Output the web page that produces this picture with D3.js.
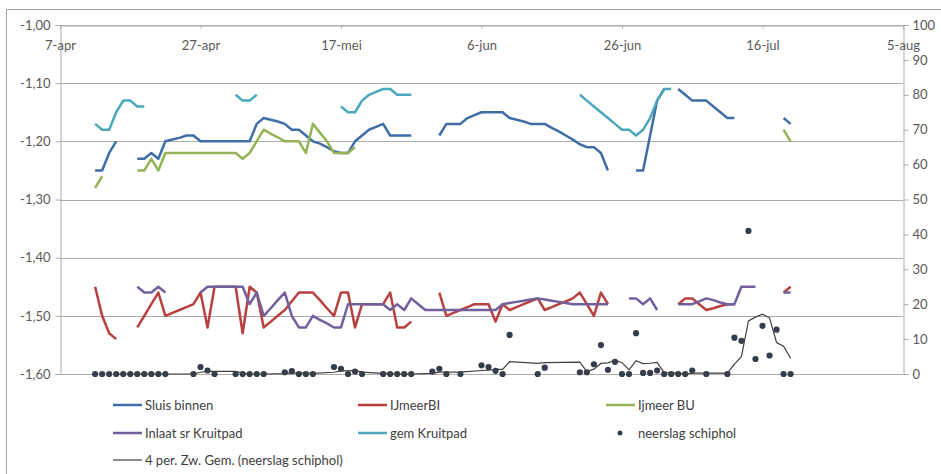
<!DOCTYPE html>
<html><head><meta charset="utf-8">
<script src="https://cdn.jsdelivr.net/npm/d3@7"></script>
<style>
body{margin:0;background:#fff}
svg{display:block}
text{font-family:Lato,"Open Sans",sans-serif}
</style>
</head><body>
<svg id="chart" width="941" height="474"></svg>
<script>
const _ = null;
// x axis: day index 0 = 7-apr
const startDate = Date.UTC(2013, 3, 7);
const tickLabels = ["7-apr","27-apr","17-mei","6-jun","26-jun","16-jul","5-aug"];
const tickStepDays = 20;
const leftTicks = [-1.6,-1.5,-1.4,-1.3,-1.2,-1.1,-1.0];
const rightTicks = [0,10,20,30,40,50,60,70,80,90,100];

// series values, one per day from 7-apr (null = no data)
const sluisBinnen = [
 _,_,_,_,_,-1.25,-1.25,-1.22,-1.20,_,
 _,-1.23,-1.23,-1.22,-1.23,-1.20,-1.197,-1.194,-1.19,-1.19,
 -1.20,-1.20,-1.20,-1.20,-1.20,-1.20,-1.20,-1.20,-1.17,-1.16,
 -1.163,-1.166,-1.17,-1.18,-1.18,-1.19,-1.20,-1.204,-1.21,-1.217,
 -1.22,-1.22,-1.20,-1.19,-1.18,-1.175,-1.17,-1.19,-1.19,-1.19,
 -1.19,_,_,_,-1.19,-1.17,-1.17,-1.17,-1.16,-1.155,
 -1.15,-1.15,-1.15,-1.15,-1.16,-1.163,-1.166,-1.17,-1.17,-1.17,
 -1.177,-1.183,-1.19,-1.197,-1.205,-1.21,-1.21,-1.22,-1.25,_,
 _,_,-1.25,-1.25,-1.19,-1.13,-1.11,_,-1.11,-1.12,
 -1.13,-1.13,-1.13,-1.14,-1.15,-1.16,-1.16,_,_,_,
 _,_,_,-1.16,-1.17
];
const ijmeerBI = [
 _,_,_,_,_,-1.45,-1.50,-1.53,-1.54,_,
 _,-1.52,-1.50,-1.48,-1.46,-1.50,-1.495,-1.49,-1.485,-1.48,
 -1.46,-1.52,-1.45,-1.45,-1.45,-1.45,-1.53,-1.45,-1.46,-1.52,
 -1.51,-1.50,-1.49,-1.475,-1.46,-1.46,-1.46,-1.473,-1.487,-1.50,
 -1.46,-1.46,-1.52,-1.48,-1.48,-1.48,-1.48,-1.46,-1.52,-1.52,
 -1.51,_,_,_,-1.46,-1.50,-1.495,-1.49,-1.485,-1.48,
 -1.48,-1.48,-1.51,-1.48,-1.49,-1.485,-1.48,-1.475,-1.47,-1.49,
 -1.485,-1.48,-1.475,-1.47,-1.46,-1.48,-1.50,-1.46,-1.48,_,
 _,_,_,_,_,_,_,_,-1.48,-1.47,
 -1.47,-1.48,-1.49,-1.487,-1.483,-1.48,-1.48,_,_,_,
 _,_,_,-1.46,-1.45
];
const ijmeerBU = [
 _,_,_,_,_,-1.28,-1.26,_,_,_,
 _,-1.25,-1.25,-1.23,-1.25,-1.22,-1.22,-1.22,-1.22,-1.22,
 -1.22,-1.22,-1.22,-1.22,-1.22,-1.22,-1.23,-1.22,-1.20,-1.18,
 -1.187,-1.193,-1.20,-1.20,-1.20,-1.22,-1.17,-1.185,-1.20,-1.22,
 -1.22,-1.22,-1.21,_,_,_,_,_,_,_,
 _,_,_,_,_,_,_,_,_,_,
 _,_,_,_,_,_,_,_,_,_,
 _,_,_,_,_,_,_,_,_,_,
 _,_,_,_,_,_,_,_,_,_,
 _,_,_,_,_,_,_,_,_,_,
 _,_,_,-1.18,-1.20
];
const inlaatKruitpad = [
 _,_,_,_,_,_,_,_,_,_,
 _,-1.45,-1.46,-1.46,-1.45,-1.46,_,_,_,_,
 -1.46,-1.45,-1.45,-1.45,-1.45,-1.45,-1.45,-1.48,-1.46,-1.50,
 -1.487,-1.473,-1.46,-1.50,-1.52,-1.52,-1.50,-1.507,-1.513,-1.52,
 -1.52,-1.48,-1.48,-1.48,-1.48,-1.48,-1.48,-1.49,-1.48,-1.49,
 -1.47,-1.48,-1.49,-1.49,-1.49,-1.49,-1.49,-1.49,-1.49,-1.49,
 -1.49,-1.49,-1.49,-1.48,-1.478,-1.476,-1.474,-1.472,-1.47,-1.472,
 -1.474,-1.476,-1.478,-1.48,-1.48,-1.48,-1.48,-1.48,-1.48,_,
 _,-1.47,-1.47,-1.48,-1.47,-1.49,_,_,-1.48,-1.48,
 -1.48,-1.475,-1.47,-1.473,-1.477,-1.48,-1.48,-1.45,-1.45,-1.45,
 _,_,_,-1.46,-1.46
];
const gemKruitpad = [
 _,_,_,_,_,-1.17,-1.18,-1.18,-1.15,-1.13,
 -1.13,-1.14,-1.14,_,_,_,_,_,_,_,
 _,_,_,_,_,-1.12,-1.13,-1.13,-1.12,_,
 _,_,_,_,_,_,_,_,_,_,
 -1.14,-1.15,-1.15,-1.13,-1.12,-1.115,-1.11,-1.11,-1.12,-1.12,
 -1.12,_,_,_,_,_,_,_,_,_,
 _,_,_,_,_,_,_,_,_,_,
 _,_,_,_,-1.12,-1.13,-1.14,-1.15,-1.16,-1.17,
 -1.18,-1.18,-1.19,-1.18,-1.16,-1.13,-1.11,-1.11,_,_,
 _,_,_,_,_,_,_,_,_,_,
 _,_,_,_,_
];
// right axis (mm)
const neerslagSchiphol = [
 _,_,_,_,_,0,0,0,0,0,
 0,0,0,0,0,0,_,_,_,0,
 2.0,1.0,0,_,_,0,0,0,0,0,
 _,_,0.5,0.8,0,0,0,_,_,2.0,
 1.5,0,0.7,0,_,_,0,0,0,0,
 0,_,_,0.7,1.5,0,_,0,_,_,
 2.5,2.0,0.9,0,11.2,_,_,_,0,1.8,
 _,_,_,_,0.5,0.5,2.8,8.3,1.2,3.5,
 0,0,11.7,0.3,0.3,1.0,0,0,0,0,
 1.0,_,0,_,_,0,10.4,9.5,41,4.3,
 13.8,5.3,12.7,0,0
];
const movingAvg4 = [
 _,_,_,_,_,_,_,_,0,0,
 0,0,0,0,0,0,_,_,_,0,
 0.5,0.75,0.75,_,_,0.75,0.25,0,0,0,
 _,_,0.13,0.33,0.33,0.33,0.2,_,_,0.5,
 0.88,0.88,1.05,0.55,_,_,0.18,0.18,0,0,
 0,_,_,0.18,0.55,0.55,_,0.55,_,_,
 1.0,1.13,1.35,1.35,3.53,_,_,_,3.03,3.25,
 _,_,_,_,3.38,0.7,1.4,3.03,3.2,3.95,
 3.25,1.18,3.8,3.0,3.08,3.33,0.4,0.33,0.25,0,
 0.25,_,0.25,_,_,0.25,2.85,4.98,15.23,16.3,
 17.15,16.1,9.03,7.95,4.5
];

const seriesNames = ["Sluis binnen","IJmeerBI","Ijmeer BU","Inlaat sr Kruitpad","gem Kruitpad","neerslag schiphol","4 per. Zw. Gem. (neerslag schiphol)"];
const seriesColors = ["#3f6ea6","#b8413f","#93b354","#72609e","#4ba8bc","#353c4a","#404040"];
const lineSeries = [sluisBinnen, ijmeerBI, ijmeerBU, inlaatKruitpad, gemKruitpad];

const svg = d3.select("#chart");
const W = 941, H = 474;
const plot = {left: 60, right: 903, top: 25, bottom: 374};
const gridColor = "#ababab";
const textColor = "#595959";

// chart frame
svg.append("rect").attr("x", 6.5).attr("y", 9.5).attr("width", W + 20).attr("height", H + 20)
  .attr("fill", "#fff").attr("stroke", "#a0a0a0").attr("stroke-width", 1);

const dayDate = i => new Date(startDate + i * 86400000);
const x = d3.scaleUtc().domain([dayDate(0), dayDate(120)]).range([plot.left, plot.right]);
const yL = d3.scaleLinear().domain([-1.6, -1.0]).range([plot.bottom, plot.top]);
const yR = d3.scaleLinear().domain([0, 100]).range([plot.bottom, plot.top]);

// gridlines
svg.append("g").selectAll("line").data(leftTicks).join("line")
  .attr("x1", plot.left).attr("x2", plot.right)
  .attr("y1", d => Math.round(yL(d)) + 0.5).attr("y2", d => Math.round(yL(d)) + 0.5)
  .attr("stroke", gridColor).attr("stroke-width", 1);

// left axis
const fmtL = d => d3.format(".2f")(d).replace("\u2212", "-").replace(".", ",");
const gL = svg.append("g").attr("transform", `translate(${plot.left + 0.5},0)`)
  .call(d3.axisLeft(yL).tickValues(leftTicks).tickFormat(fmtL).tickSize(5).tickPadding(5));
gL.select(".domain").attr("stroke", gridColor);
gL.selectAll(".tick line").attr("stroke", gridColor);
gL.selectAll("text").attr("font-size", 13).attr("fill", textColor).attr("font-family", "Lato");

// right axis
const gR = svg.append("g").attr("transform", `translate(${plot.right + 0.5},0)`)
  .call(d3.axisRight(yR).tickValues(rightTicks).tickSize(5).tickPadding(4));
gR.select(".domain").attr("stroke", gridColor);
gR.selectAll(".tick line").attr("stroke", gridColor);
gR.selectAll("text").attr("font-size", 13).attr("fill", textColor).attr("font-family", "Lato");

// top x axis (labels below the line)
const tickDates = tickLabels.map((t, i) => dayDate(i * tickStepDays));
const gX = svg.append("g").attr("transform", `translate(0,${plot.top + 0.5})`)
  .call(d3.axisBottom(x).tickValues(tickDates).tickFormat((d, i) => tickLabels[i]).tickSize(3).tickPadding(12));
gX.select(".domain").attr("stroke", gridColor);
gX.selectAll(".tick line").attr("stroke", gridColor);
gX.selectAll("text").attr("font-size", 13).attr("fill", textColor).attr("font-family", "Lato");

// line series
lineSeries.forEach((arr, k) => {
  const line = d3.line()
    .defined(d => d != null)
    .x((d, i) => x(dayDate(i)))
    .y(d => yL(d));
  svg.append("path").datum(arr).attr("d", line)
    .attr("fill", "none").attr("stroke", seriesColors[k]).attr("stroke-width", 2.5)
    .attr("stroke-linejoin", "round").attr("stroke-linecap", "butt");
});

// precipitation dots
const rainPts = neerslagSchiphol.map((v, i) => ({i, v})).filter(d => d.v != null);
svg.append("g").selectAll("circle").data(rainPts).join("circle")
  .attr("cx", d => x(dayDate(d.i))).attr("cy", d => yR(d.v)).attr("r", 3.1)
  .attr("fill", seriesColors[5]);

// moving average trendline
const maPts = movingAvg4.map((v, i) => ({i, v})).filter(d => d.v != null);
svg.append("path").datum(maPts)
  .attr("d", d3.line().x(d => x(dayDate(d.i))).y(d => yR(d.v)))
  .attr("fill", "none").attr("stroke", seriesColors[6]).attr("stroke-width", 1.2);

// legend
const legCols = [113, 358, 606];
const legRows = [405, 433, 460];
const lg = svg.append("g");
seriesNames.forEach((name, k) => {
  const cx = legCols[k % 3], cy = legRows[Math.floor(k / 3)];
  if (k === 5) {
    lg.append("circle").attr("cx", cx + 14).attr("cy", cy).attr("r", 2.5).attr("fill", seriesColors[k]);
  } else {
    lg.append("line").attr("x1", cx).attr("x2", cx + 29).attr("y1", cy).attr("y2", cy)
      .attr("stroke", seriesColors[k]).attr("stroke-width", k === 6 ? 1.2 : 2.5);
  }
  lg.append("text").attr("x", cx + 32).attr("y", cy).attr("dy", "0.35em")
    .attr("font-size", 13).attr("fill", "#404040").text(name);
});
</script>
</body></html>
